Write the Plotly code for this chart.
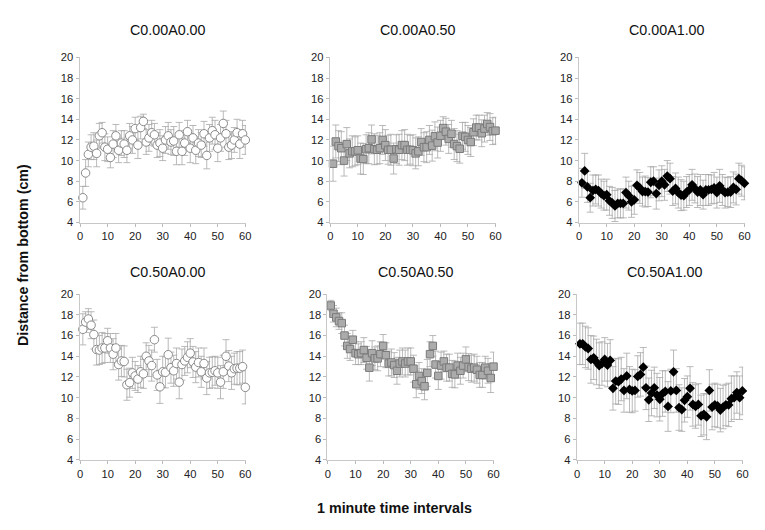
import plotly.graph_objects as go

minutes = list(range(1, 61))

titles = ["C0.00A0.00", "C0.00A0.50", "C0.00A1.00",
          "C0.50A0.00", "C0.50A0.50", "C0.50A1.00"]

x_ticks = [0, 10, 20, 30, 40, 50, 60]
y_ticks = [4, 6, 8, 10, 12, 14, 16, 18, 20]

mean_c000_a000 = [6.4, 8.8, 10.6, 11.3, 11.4, 10.7, 12.4, 12.7, 11.3, 11.1,
                  10.3, 11.6, 12.4, 11.0, 11.7, 11.6, 11.0, 12.4, 12.0, 13.1,
                  11.5, 13.2, 13.8, 11.8, 12.2, 12.7, 12.5, 11.5, 11.7, 11.2,
                  12.0, 12.4, 11.8, 11.9, 10.9, 12.5, 10.9, 11.7, 12.8, 11.2,
                  12.2, 11.0, 11.7, 11.5, 12.6, 10.5, 12.2, 12.9, 12.5, 11.2,
                  12.2, 13.6, 12.6, 11.3, 11.5, 12.0, 12.7, 11.6, 12.6, 12.0]
err_c000_a000 = [1.1, 1.3, 1.2, 1.2, 1.3, 1.3, 1.2, 1.0, 1.3, 1.2,
                 1.0, 1.3, 1.1, 1.2, 1.2, 1.3, 1.2, 1.2, 1.3, 1.1,
                 1.3, 1.1, 0.7, 1.2, 1.3, 1.2, 1.1, 1.2, 1.3, 1.2,
                 1.3, 1.3, 1.2, 1.4, 1.3, 1.2, 1.3, 1.2, 1.1, 1.4,
                 1.2, 1.3, 1.3, 1.2, 1.2, 1.3, 1.3, 1.3, 1.4, 1.3,
                 1.3, 1.2, 1.3, 1.2, 1.3, 1.2, 1.3, 1.4, 1.3, 1.4]

mean_c000_a050 = [9.7, 11.85, 11.4, 11.2, 10.0, 11.6, 10.7, 10.9, 10.9, 11.0,
                  10.2, 10.15, 11.1, 11.2, 12.05, 11.1, 11.05, 11.2, 12.0, 11.5,
                  11.05, 11.05, 10.2, 11.1, 11.05, 11.5, 11.5, 11.05, 11.05, 11.0,
                  10.7, 10.9, 11.8, 11.3, 11.3, 12.0, 11.45, 12.35, 11.75, 12.4,
                  13.15, 12.8, 12.1, 12.6, 11.6, 11.4, 11.15, 12.4, 12.3, 12.0,
                  11.8, 12.75, 13.2, 13.2, 12.65, 13.1, 13.55, 13.25, 12.85, 12.9]
err_c000_a050 = [1.7, 1.6, 1.5, 1.6, 1.5, 1.6, 1.4, 1.5, 1.4, 1.4,
                 1.5, 1.5, 1.4, 1.5, 1.4, 1.5, 1.4, 1.5, 1.4, 1.5,
                 1.4, 1.5, 1.5, 1.4, 1.5, 1.4, 1.5, 1.5, 1.4, 1.5,
                 1.5, 1.4, 1.3, 1.4, 1.5, 1.4, 1.5, 1.4, 1.5, 1.5,
                 1.1, 1.3, 1.4, 1.3, 1.5, 1.5, 1.4, 1.3, 1.4, 1.4,
                 1.4, 1.3, 1.2, 1.2, 1.3, 1.3, 1.1, 1.3, 1.3, 1.3]

mean_c000_a100 = [7.85, 9.0, 7.45, 6.4, 7.1, 7.2, 7.1, 6.8, 6.6, 6.7,
                  6.1, 5.9, 5.6, 5.85, 5.85, 5.85, 6.9, 6.6, 6.0, 6.2,
                  7.6, 7.35, 7.0, 7.0, 6.95, 7.9, 8.0, 6.8, 7.6, 8.0,
                  7.65, 8.5, 8.25, 7.05, 7.3, 6.9, 6.65, 6.6, 6.95, 7.15,
                  7.65, 7.3, 6.95, 7.15, 6.7, 7.15, 7.15, 7.2, 7.35, 6.9,
                  7.55, 7.15, 6.9, 6.95, 6.95, 7.4, 7.2, 8.25, 8.05, 7.8]
err_c000_a100 = [1.4, 1.7, 1.5, 1.4, 1.5, 1.4, 1.5, 1.4, 1.4, 1.5,
                 1.4, 1.5, 1.5, 1.4, 1.4, 1.4, 1.5, 1.4, 1.5, 1.4,
                 1.5, 1.5, 1.4, 1.5, 1.4, 1.5, 1.4, 1.5, 1.5, 1.5,
                 1.5, 1.5, 1.5, 1.4, 1.5, 1.5, 1.5, 1.4, 1.5, 1.5,
                 1.5, 1.4, 1.5, 1.5, 1.4, 1.5, 1.5, 1.4, 1.5, 1.5,
                 1.6, 1.5, 1.5, 1.4, 1.5, 1.5, 1.5, 1.5, 1.5, 1.6]

mean_c050_a000 = [16.6, 17.3, 17.6, 17.0, 16.1, 14.65, 14.6, 14.8, 14.8, 15.5,
                  14.8, 14.2, 14.8, 13.2, 13.55, 13.5, 11.25, 11.45, 12.4, 12.1,
                  11.8, 12.5, 12.3, 14.0, 13.55, 13.1, 15.6, 12.2, 11.05, 12.5,
                  12.45, 14.15, 12.9, 12.6, 13.3, 11.5, 13.2, 13.55, 13.9, 14.3,
                  13.45, 12.95, 13.4, 12.5, 13.3, 11.9, 12.4, 12.45, 12.6, 12.4,
                  11.5, 12.5, 14.0, 13.05, 12.4, 12.8, 12.85, 12.85, 13.0, 11.0]
err_c050_a000 = [1.5, 1.0, 1.0, 1.3, 1.4, 1.5, 1.4, 1.5, 1.4, 1.2,
                 1.4, 1.5, 1.4, 1.5, 1.5, 1.5, 1.5, 1.4, 1.5, 1.4,
                 1.3, 1.5, 1.4, 1.3, 1.5, 1.5, 1.2, 1.5, 1.6, 1.5,
                 1.5, 1.6, 1.5, 1.5, 1.5, 1.6, 1.5, 1.4, 1.5, 1.4,
                 1.5, 1.5, 1.4, 1.5, 1.5, 1.6, 1.5, 1.5, 1.4, 1.5,
                 1.6, 1.6, 1.6, 1.5, 1.6, 1.5, 1.6, 1.6, 1.6, 1.6]

mean_c050_a050 = [18.9, 18.1, 17.75, 17.4, 17.2, 16.0, 15.0, 14.7, 15.6, 14.3,
                  14.2, 14.3, 14.6, 13.85, 12.9, 14.3, 13.8, 13.8, 14.2, 15.0,
                  14.1, 13.3, 13.4, 13.15, 12.6, 13.3, 13.5, 13.3, 13.5, 13.5,
                  12.8, 11.3, 12.1, 11.6, 11.1, 12.4, 14.2, 15.0, 13.2, 12.1,
                  13.1, 13.5, 12.9, 12.9, 12.3, 12.25, 13.1, 12.6, 13.1, 13.7,
                  12.95, 12.8, 12.9, 12.7, 12.2, 12.2, 12.9, 12.6, 11.9, 13.0]
err_c050_a050 = [0.5, 0.8, 0.9, 0.8, 1.0, 1.0, 1.2, 1.1, 0.9, 1.1,
                 1.0, 1.1, 1.2, 1.1, 1.3, 1.2, 1.1, 1.2, 1.2, 1.1,
                 1.2, 1.2, 1.3, 1.2, 1.3, 1.3, 1.3, 1.3, 1.3, 1.3,
                 1.3, 1.3, 1.3, 1.2, 1.3, 1.3, 1.2, 1.0, 1.3, 1.3,
                 1.3, 1.0, 1.3, 1.3, 1.3, 1.3, 1.2, 1.3, 1.2, 1.2,
                 1.3, 1.3, 1.3, 1.3, 1.2, 1.2, 1.1, 1.2, 1.4, 1.4]

mean_c050_a100 = [15.2, 15.2, 14.9, 14.75, 13.7, 13.85, 13.45, 13.1, 13.3, 13.7,
                  13.15, 13.6, 10.9, 11.6, 11.55, 11.8, 10.7, 12.1, 10.8, 10.65,
                  10.7, 12.05, 12.25, 12.95, 10.95, 9.8, 10.45, 10.95, 10.25, 9.85,
                  10.4, 10.6, 9.15, 10.65, 12.5, 10.7, 9.05, 8.85, 9.75, 10.1,
                  10.9, 9.35, 9.15, 9.35, 8.25, 8.4, 8.15, 10.7, 9.1, 9.3,
                  9.2, 8.8, 9.1, 9.3, 9.3, 9.9, 10.0, 10.5, 10.0, 10.65]
err_c050_a100 = [2.0, 2.0, 2.0, 2.0, 2.3, 2.1, 2.2, 2.2, 2.1, 2.1,
                 2.1, 2.0, 2.1, 2.2, 2.2, 2.1, 2.1, 2.2, 2.2, 2.1,
                 2.0, 2.0, 2.1, 1.9, 2.1, 2.1, 2.2, 2.0, 2.1, 2.1,
                 2.2, 2.0, 2.4, 2.1, 2.1, 2.1, 2.2, 2.1, 2.1, 2.0,
                 2.1, 2.1, 2.1, 2.0, 2.0, 2.0, 2.2, 2.0, 2.2, 2.1,
                 2.1, 2.1, 2.1, 2.0, 2.1, 2.2, 2.1, 2.0, 2.1, 2.3]

means = [mean_c000_a000, mean_c000_a050, mean_c000_a100,
         mean_c050_a000, mean_c050_a050, mean_c050_a100]
errors = [err_c000_a000, err_c000_a050, err_c000_a100,
          err_c050_a000, err_c050_a050, err_c050_a100]

W, H = 765, 530
# capture compensation (observed shrink/offset of the rendered page)
SX, SY, PX, PY = 0.986, 0.975, 4.5, 6.8


def fx(px):
    return (px / SX - PX) / W


def fy(py):
    return 1 - (py / SY - PY) / H


# target plot areas in pixels (left, right, top, bottom)
boxes = [(80.7, 246.7, 57.3, 222.7), (330.0, 496.0, 57.3, 222.7), (578.0, 744.0, 57.3, 222.7),
         (80.7, 246.7, 293.0, 459.0), (327.7, 494.0, 293.0, 459.0), (576.0, 742.0, 293.0, 459.0)]
title_y = [31, 31, 31, 271, 271, 271]

marker_styles = [
    dict(symbol="circle", size=8.5, color="white", line=dict(color="#8a8a8a", width=1)),
    dict(symbol="square", size=7.5, color="#ababab", line=dict(color="#7a7a7a", width=1)),
    dict(symbol="diamond", size=7.5, color="black", line=dict(color="black", width=0)),
]

fig = go.Figure()
layout = dict(
    width=W, height=H,
    margin=dict(l=0, r=0, t=0, b=0),
    paper_bgcolor="white", plot_bgcolor="white",
    showlegend=False,
    font=dict(family="Liberation Sans, Arial", color="#222222"),
)
annotations = []
for i in range(6):
    l, r, t, b = boxes[i]
    xa = "xaxis" if i == 0 else f"xaxis{i+1}"
    ya = "yaxis" if i == 0 else f"yaxis{i+1}"
    xref = "x" if i == 0 else f"x{i+1}"
    yref = "y" if i == 0 else f"y{i+1}"
    layout[xa] = dict(domain=[fx(l), fx(r)], anchor=yref, range=[-0.2, 60.3],
                      tickvals=x_ticks, ticks="outside", ticklen=3, tickcolor="#bbbbbb",
                      showline=True, linecolor="#c8c8c8", linewidth=1,
                      showgrid=False, zeroline=False,
                      tickfont=dict(size=11.2, color="#222222"))
    layout[ya] = dict(domain=[fy(b), fy(t)], anchor=xref, range=[3.95, 20.05],
                      tickvals=y_ticks, ticks="outside", ticklen=3, tickcolor="#bbbbbb",
                      showline=True, linecolor="#c8c8c8", linewidth=1,
                      showgrid=False, zeroline=False,
                      tickfont=dict(size=11.2, color="#222222"))
    fig.add_trace(go.Scatter(
        x=minutes, y=means[i], mode="markers", xaxis=xref, yaxis=yref,
        marker=marker_styles[i % 3], cliponaxis=False, hoverinfo="skip",
        error_y=dict(type="data", array=errors[i], visible=True,
                     color="#a8a8a8", thickness=0.8, width=3.5),
    ))
    annotations.append(dict(text=titles[i], x=fx((l + r) / 2 + 5), y=fy(title_y[i]),
                            xref="paper", yref="paper", showarrow=False,
                            xanchor="center", yanchor="middle",
                            font=dict(size=14.3, color="#111111")))

annotations.append(dict(text="<b>Distance from bottom (cm)</b>", x=fx(25), y=fy(255),
                        xref="paper", yref="paper", showarrow=False, textangle=-90,
                        xanchor="center", yanchor="middle",
                        font=dict(size=14.3, color="#111111")))
annotations.append(dict(text="<b>1 minute time intervals</b>", x=fx(395), y=fy(506),
                        xref="paper", yref="paper", showarrow=False,
                        xanchor="center", yanchor="middle",
                        font=dict(size=14.3, color="#111111")))
layout["annotations"] = annotations
fig.update_layout(**layout)
fig.write_html(
    "out.html",
    config={"displayModeBar": False, "staticPlot": True},
    post_script=("document.body.style.margin='0';"
                 "document.body.style.overflow='hidden';"
                 "document.documentElement.style.overflow='hidden';"),
)
